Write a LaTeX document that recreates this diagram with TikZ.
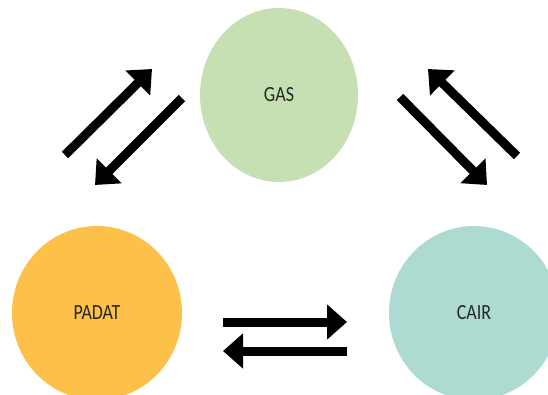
\documentclass[tikz,border=0pt]{standalone}
\usepackage{fontspec}
\setmainfont{Carlito}
\usetikzlibrary{arrows.meta,shapes.geometric}

\definecolor{gasgreen}{HTML}{C6E0B4}
\definecolor{padatorange}{HTML}{FDC14A}
\definecolor{cairteal}{HTML}{AEDBD1}

% taller label text, as in the source figure
\newcommand{\phaselabel}[1]{\scalebox{1}[1.2]{#1}}

\begin{document}
\begin{tikzpicture}[
    x=1pt, y=-1pt,
    % Node styles
    phase/.style={
        ellipse,
        draw=none,
        fill=#1,
        inner sep=0pt,
        minimum width=166pt,
        minimum height=174pt,
        font=\fontsize{18}{20}\selectfont,
        text=black!85
    },
    flow/.style={
        -{Triangle[length=20pt, width=34pt]},
        line width=9pt,
        color=black
    }
]

\clip (0,0) rectangle (548,394);

% ===== Phase circles =====

\node[phase=gasgreen, minimum width=158pt] (gas) at (279, 95) {\phaselabel{GAS}};
\node[phase=padatorange, minimum width=170pt] (padat) at (97, 313) {\phaselabel{PADAT}};
\node[phase=cairteal, minimum width=170pt] (cair) at (474, 313) {\phaselabel{CAIR}};

% ===== Arrow end points =====

\coordinate (pg1) at (65, 155);
\coordinate (pg2) at (152, 69);
\coordinate (gp1) at (182, 98);
\coordinate (gp2) at (95, 185);

\coordinate (cg1) at (517, 156);
\coordinate (cg2) at (428, 69);
\coordinate (gc1) at (400, 97);
\coordinate (gc2) at (487, 185);

\coordinate (pc1) at (223, 322);
\coordinate (pc2) at (347, 322);
\coordinate (cp1) at (347, 351);
\coordinate (cp2) at (223, 351);

% ===== Padat <-> Gas =====

\draw[flow] (pg1) -- (pg2);
\draw[flow] (gp1) -- (gp2);

% ===== Gas <-> Cair =====

\draw[flow] (cg1) -- (cg2);
\draw[flow] (gc1) -- (gc2);

% ===== Padat <-> Cair =====

\draw[flow] (pc1) -- (pc2);
\draw[flow] (cp1) -- (cp2);

\end{tikzpicture}
\end{document}
